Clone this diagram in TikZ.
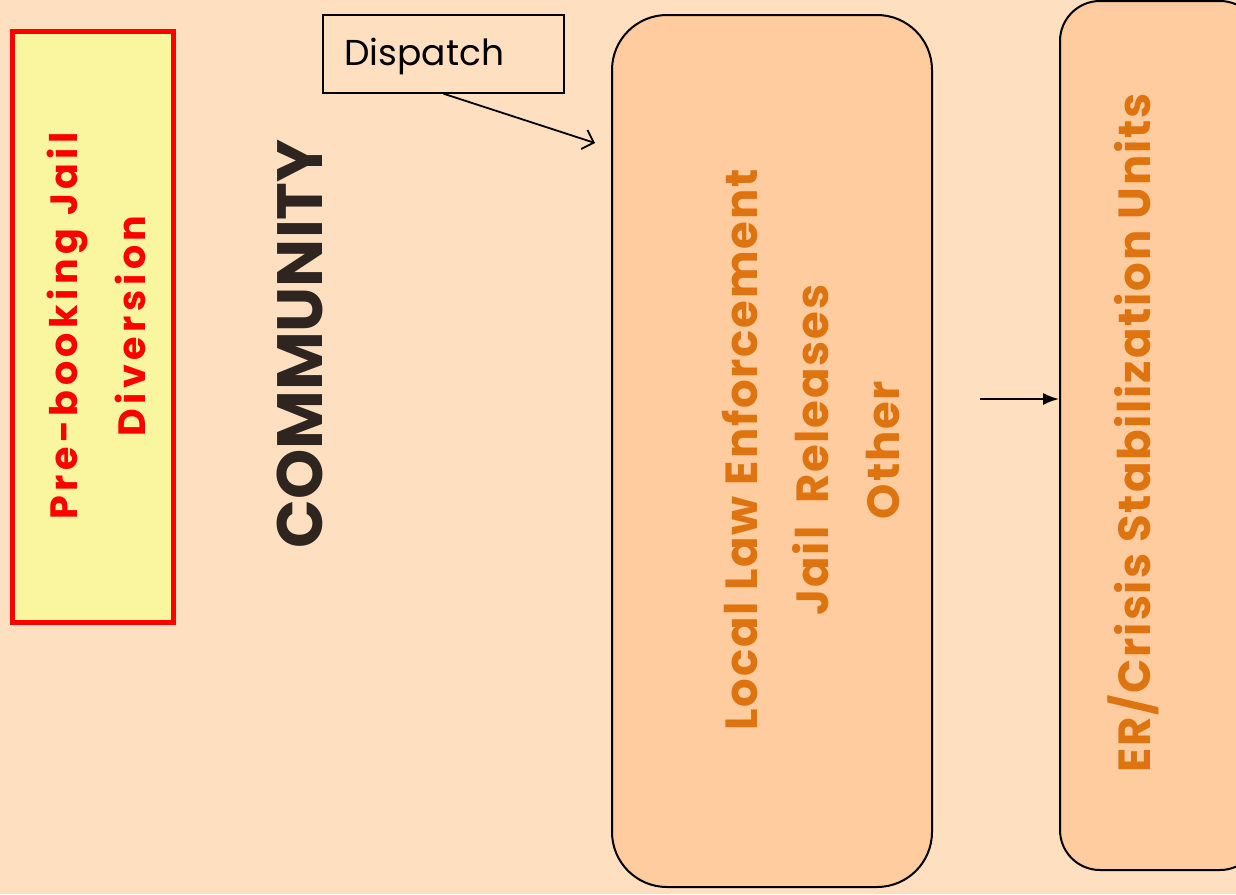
\documentclass[tikz,border=0pt]{standalone}
\usepackage{fontspec}
\setmainfont{Poppins}
\usetikzlibrary{arrows.meta}
\definecolor{pagebg}{HTML}{FEDFC0}
\definecolor{boxfill}{HTML}{FFCC9F}
\definecolor{boxtext}{HTML}{DE7410}
\definecolor{divfill}{HTML}{FAF59F}
\definecolor{commtext}{HTML}{2E2420}
\tikzset{
  stagebox/.style={draw=black, line width=2pt, fill=boxfill, inner sep=0pt},
  stagetext/.style={rotate=90, align=center, text=boxtext, font=\bfseries\fontsize{45}{71}\selectfont\addfontfeature{LetterSpace=4}},
  divbox/.style={draw=red, line width=5pt, fill=divfill, inner sep=0pt},
  divtext/.style={rotate=90, align=center, text=red, font=\bfseries\fontsize{38}{68}\selectfont\addfontfeature{LetterSpace=12}},
  labelbox/.style={draw=black, line width=1.4pt, fill=pagebg, inner sep=0pt},
  conn/.style={draw=black, line width=1.8pt}
}
\begin{document}
\begin{tikzpicture}[x=1pt,y=-1pt]
  \fill[pagebg] (0,0) rectangle (1236,894);
  \useasboundingbox (0,0) rectangle (1236,894);
  \begin{scope}
    \clip (0,0) rectangle (1236,894);
    % pre-booking diversion panel
    \node[divbox, minimum width=161pt, minimum height=591pt] (div) at (93,327) {};
    \node[divtext] (divlabel) at (96,326) {Pre-booking Jail\\Diversion};
    % community heading
    \node[rotate=90, text=commtext, font=\bfseries\fontsize{64}{70}\selectfont] (comm) at (300,344) {COMMUNITY};
    % dispatch label
    \node[labelbox, minimum width=241pt, minimum height=78pt] (disp) at (443.5,54) {};
    \node[font=\fontsize{36}{40}\selectfont, anchor=west] (disptext) at (341,56) {Dispatch};
    % intercept stages
    \node[stagebox, rounded corners=55pt, minimum width=320pt, minimum height=872pt] (law) at (772,451) {};
    \node[stagetext] (lawtext) at (811,450) {Local Law Enforcement\\Jail\ \ Releases\\Other};
    \node[stagebox, rounded corners=40pt, minimum width=200pt, minimum height=869pt] (er) at (1160,435.5) {};
    \node[stagetext] (ertext) at (1133,433) {ER/Crisis Stabilization Units};
    % connectors
    \coordinate (dispend) at (595,143);
    \draw[conn, -{Straight Barb[length=10pt, width=20pt]}] (disp.south) -- (dispend);
    \coordinate (erstart) at (980,399);
    \draw[conn, -{Latex[length=16pt, width=12pt]}] (erstart) -- (erstart -| er.west);
  \end{scope}
\end{tikzpicture}
\end{document}
